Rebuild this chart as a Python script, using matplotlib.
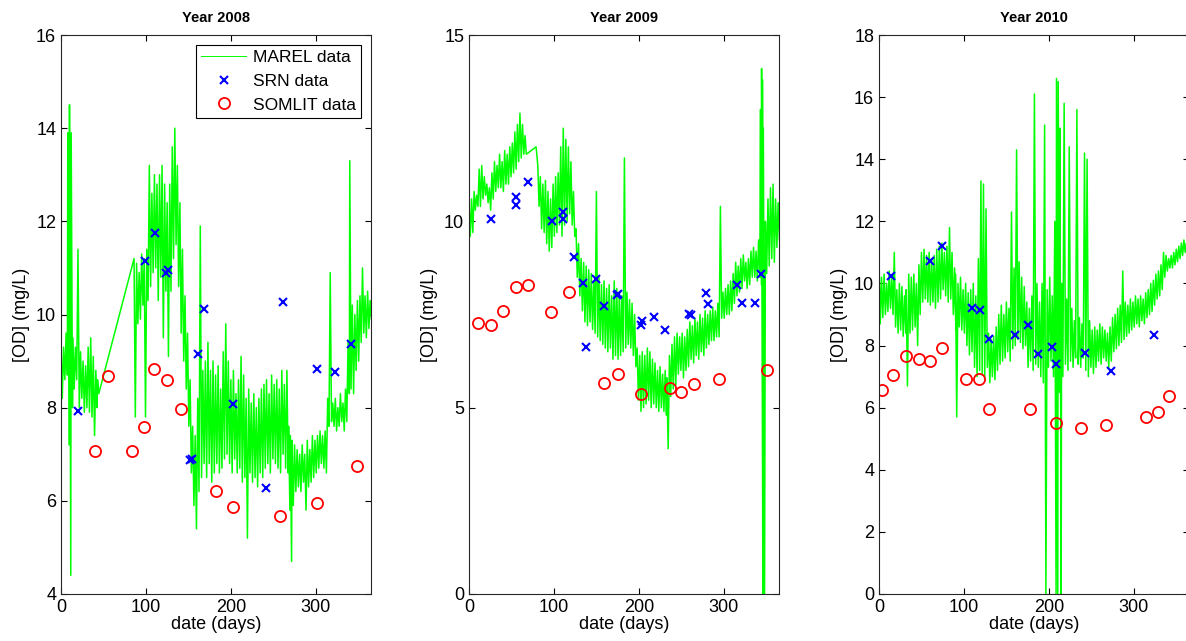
import matplotlib.pyplot as plt

plt.rcParams['font.family'] = ['Liberation Sans', 'DejaVu Sans']

marel_2008 = [
    (0, 9.4, 8.2), (3, 9.3, 8.6), (6, 9.6, 8.7), (8, 13.9, 7.2), (10, 14.5, 4.4),
    (12, 13.9, 8.0), (14, 9.5, 8.4), (17, 9.3, 8.6), (20, 11.4, 8.0), (23, 9.2, 8.2),
    (26, 9.0, 7.9), (29, 8.9, 8.0), (32, 9.3, 7.9), (35, 9.5, 7.8), (38, 9.1, 7.4),
    (41, 8.8, 8.0), (43, 8.6, 8.3),
    (86, 11.2, 7.8), (89, 11.1, 9.8), (92, 10.9, 9.9), (95, 11.3, 10.2), (98, 11.2, 7.8),
    (101, 11.4, 10.3), (104, 13.2, 10.6), (107, 12.6, 10.9), (110, 13.0, 11.0),
    (113, 12.8, 10.3), (116, 13.0, 10.8), (119, 13.2, 9.5), (122, 12.8, 10.5),
    (125, 12.4, 9.1), (128, 12.8, 10.5), (131, 13.6, 11.2), (134, 14.0, 11.5),
    (137, 13.2, 10.6), (140, 12.4, 9.6), (143, 11.4, 9.0), (146, 10.4, 8.4),
    (149, 9.6, 7.6), (152, 8.6, 6.6), (155, 7.6, 5.9), (158, 7.4, 5.4), (161, 8.2, 6.2),
    (164, 11.9, 6.5), (167, 8.8, 6.8), (170, 9.0, 6.5), (173, 9.4, 6.8), (176, 8.8, 6.4),
    (179, 9.0, 6.6), (182, 8.7, 6.8), (185, 8.9, 6.6), (188, 8.4, 6.7), (191, 9.2, 6.9),
    (194, 9.8, 7.0), (197, 9.0, 6.8), (200, 8.6, 6.6), (203, 8.8, 6.9), (206, 8.3, 6.6),
    (209, 8.6, 6.7), (212, 9.1, 6.4), (215, 8.7, 6.5), (218, 8.2, 5.2), (221, 8.4, 6.6),
    (224, 8.1, 6.4), (227, 8.3, 6.5), (230, 8.0, 6.3), (233, 8.2, 6.6), (236, 8.4, 6.5),
    (239, 8.5, 6.7), (242, 8.6, 6.8), (245, 8.3, 6.6), (248, 8.7, 6.9), (251, 8.5, 6.8),
    (254, 8.6, 6.7), (257, 8.4, 6.6), (260, 8.8, 7.0), (263, 8.5, 6.7), (266, 8.8, 6.6),
    (268, 7.6, 5.8), (270, 7.4, 4.7), (272, 7.3, 5.9), (275, 7.2, 6.2), (278, 7.1, 6.3),
    (281, 7.0, 6.2), (284, 7.2, 6.4), (287, 7.0, 5.8), (290, 7.3, 6.3), (293, 7.1, 6.4),
    (296, 7.4, 6.5), (299, 7.3, 6.6), (302, 7.4, 6.7), (305, 7.5, 6.8), (308, 7.4, 6.7),
    (311, 7.5, 6.6), (314, 8.2, 7.6), (317, 10.9, 7.7), (320, 8.1, 7.6), (323, 8.2, 7.5),
    (326, 8.0, 7.6), (329, 8.3, 7.7), (332, 8.1, 7.5), (335, 8.4, 7.7), (338, 9.4, 8.3),
    (340, 13.3, 8.4), (343, 10.2, 8.3), (346, 10.0, 8.8), (349, 10.3, 9.0),
    (352, 10.4, 9.4), (355, 11.0, 9.6), (358, 10.4, 9.5), (361, 10.5, 9.7), (364, 10.3, 9.9),
]
marel_2009 = [
    (0, 10.5, 9.6), (3, 10.6, 9.7), (6, 10.8, 10.3), (9, 10.7, 10.4), (12, 11.4, 10.4),
    (15, 11.5, 10.6), (18, 11.2, 10.7), (21, 11.0, 10.5), (24, 10.9, 10.3), (27, 11.3, 10.6),
    (30, 11.6, 10.8), (33, 11.5, 10.9), (36, 11.8, 10.9), (39, 11.6, 10.8), (42, 11.9, 11.0),
    (45, 11.8, 11.0), (48, 12.0, 11.2), (51, 12.1, 11.3), (54, 12.4, 11.4), (57, 12.6, 11.6),
    (60, 12.9, 11.7), (63, 12.6, 11.8), (66, 12.3, 11.8),
    (79, 12.0, 11.6), (81, 11.5, 10.4), (84, 11.2, 9.8), (87, 11.0, 9.7), (90, 11.1, 9.4),
    (93, 10.8, 9.2), (96, 10.6, 9.3), (99, 11.0, 9.6), (102, 11.2, 9.7), (105, 11.3, 9.9),
    (108, 12.0, 9.6), (111, 12.5, 9.9), (114, 12.2, 10.0), (117, 12.0, 10.2),
    (120, 11.6, 9.9), (123, 10.8, 9.6), (126, 9.8, 8.5), (129, 9.4, 8.0), (132, 9.0, 7.6),
    (135, 8.9, 7.3), (138, 8.8, 7.2), (141, 8.7, 7.3), (144, 8.6, 7.1), (147, 8.4, 7.0),
    (150, 10.8, 6.9), (153, 8.5, 6.8), (156, 8.3, 6.7), (159, 8.4, 6.6), (162, 8.2, 6.5),
    (165, 8.3, 6.6), (168, 8.0, 6.3), (171, 8.4, 6.4), (174, 8.2, 6.3), (177, 8.1, 6.4),
    (180, 8.0, 6.5), (183, 11.7, 6.6), (186, 8.1, 6.7), (189, 7.9, 6.6), (192, 7.8, 6.4),
    (195, 7.5, 6.1), (198, 6.6, 5.2), (201, 6.4, 4.9), (204, 6.5, 5.0), (207, 6.4, 5.1),
    (210, 6.6, 5.2), (213, 6.5, 5.0), (216, 6.3, 5.1), (219, 6.2, 5.0), (222, 6.0, 4.9),
    (225, 6.1, 5.0), (228, 5.9, 4.9), (231, 6.0, 4.8), (233, 5.8, 3.9), (236, 6.4, 5.3),
    (239, 6.7, 5.5), (242, 6.9, 5.6), (245, 7.0, 5.9), (248, 6.9, 6.0), (251, 7.0, 5.8),
    (254, 6.9, 6.0), (257, 7.1, 6.1), (260, 7.3, 6.3), (263, 7.2, 6.2), (266, 7.4, 6.4),
    (269, 7.3, 6.3), (272, 7.5, 6.5), (275, 7.4, 6.4), (278, 7.6, 6.6), (281, 7.5, 6.7),
    (284, 7.6, 6.8), (287, 7.7, 6.8), (290, 7.6, 6.9), (293, 7.8, 6.9), (296, 10.4, 7.4),
    (299, 8.1, 7.4), (302, 8.2, 7.5), (305, 8.3, 7.5), (308, 8.4, 7.6), (311, 8.6, 7.8),
    (314, 8.9, 8.0), (317, 8.8, 8.1), (320, 9.0, 8.2), (323, 9.1, 8.4), (326, 8.9, 8.2),
    (329, 9.0, 8.3), (332, 9.2, 8.5), (335, 9.3, 8.5), (338, 9.2, 8.4), (341, 9.5, 8.5),
    (343, 13.0, 8.3), (344.5, 14.1, 0.0), (345.5, 13.8, 0.0), (346.5, 12.5, 0.0),
    (349, 10.0, 8.6), (352, 10.6, 8.8), (355, 10.9, 9.0), (358, 11.0, 8.9),
    (361, 10.6, 9.3), (364, 10.5, 9.5),
]
marel_2010 = [
    (0, 10.8, 8.7), (3, 10.2, 8.9), (6, 10.3, 9.0), (9, 10.0, 9.1), (12, 10.4, 9.2),
    (15, 10.2, 9.0), (18, 11.0, 8.6), (21, 9.8, 8.4), (24, 10.0, 8.5), (27, 9.9, 8.3),
    (30, 9.6, 8.4), (32, 9.8, 6.7), (35, 10.3, 8.4), (38, 10.2, 8.5), (41, 10.3, 8.6),
    (44, 10.0, 8.0), (47, 10.6, 9.0), (50, 11.0, 9.4), (53, 11.1, 9.5), (56, 10.9, 9.4),
    (59, 11.0, 9.3), (62, 10.8, 9.4), (65, 10.9, 9.2), (68, 11.1, 9.4), (71, 11.2, 9.5),
    (74, 11.3, 9.8), (77, 11.0, 9.6), (80, 11.2, 9.4), (83, 11.8, 9.5), (86, 11.0, 9.0),
    (89, 10.5, 8.5), (90, 10.3, 5.7), (93, 10.0, 8.6), (96, 10.2, 8.5), (99, 9.8, 8.4),
    (102, 10.0, 8.0), (105, 9.7, 7.7), (108, 9.8, 7.8), (111, 10.0, 7.3), (114, 9.6, 7.0),
    (117, 10.8, 7.2), (120, 13.3, 7.1), (123, 13.2, 6.9), (126, 12.4, 7.3), (129, 8.4, 6.8),
    (132, 8.2, 7.0), (135, 8.3, 6.9), (138, 8.6, 7.2), (141, 9.0, 7.4), (144, 9.3, 7.5),
    (147, 9.0, 7.6), (150, 9.4, 7.8), (153, 9.2, 7.5), (156, 12.3, 7.9), (159, 10.5, 8.0),
    (162, 14.3, 8.2), (165, 10.7, 8.1), (168, 10.2, 7.9), (171, 9.9, 8.0), (174, 9.4, 7.3),
    (177, 9.2, 7.5), (180, 9.6, 7.2), (183, 16.1, 7.4), (186, 10.0, 7.3), (189, 9.4, 7.0),
    (192, 10.0, 6.8), (195, 15.1, 0.0), (198, 9.8, 7.3), (201, 10.2, 7.5), (204, 9.6, 7.0),
    (207, 12.0, 0.0), (209, 16.6, 0.0), (211, 16.5, 6.5), (213, 15.0, 0.0), (215, 10.0, 7.0),
    (218, 15.8, 7.4), (221, 9.5, 7.2), (224, 14.4, 7.5), (227, 9.2, 7.3), (230, 8.8, 7.6),
    (233, 15.6, 7.4), (236, 8.9, 7.3), (239, 8.7, 7.6), (242, 14.2, 7.2), (245, 14.0, 7.0),
    (248, 8.8, 7.3), (251, 8.5, 7.1), (254, 8.6, 7.3), (257, 8.5, 7.5), (260, 8.7, 7.4),
    (263, 8.6, 7.6), (266, 8.5, 7.5), (269, 8.4, 7.3), (272, 8.6, 7.5), (275, 8.9, 7.8),
    (278, 9.0, 7.9), (281, 9.2, 8.0), (284, 9.3, 8.1), (287, 10.4, 8.2), (290, 9.4, 8.3),
    (293, 9.3, 8.4), (296, 9.5, 8.5), (299, 9.4, 8.6), (302, 9.6, 8.7), (305, 9.5, 8.6),
    (308, 9.6, 8.8), (311, 9.5, 8.7), (314, 9.7, 8.9), (317, 9.8, 9.0), (320, 10.0, 9.1),
    (323, 10.1, 9.3), (326, 10.3, 9.5), (329, 10.4, 9.6), (332, 10.6, 9.8), (335, 11.0, 10.2),
    (338, 10.9, 10.4), (341, 10.8, 10.5), (344, 10.9, 10.5), (347, 11.0, 10.6),
    (350, 11.1, 10.7), (353, 11.2, 10.8), (356, 11.3, 10.9), (359, 11.4, 11.0),
    (362, 11.3, 10.9), (365, 11.4, 11.0),
]

srn_day_2008 = [20, 99, 111, 124, 126, 152, 154, 161, 168, 202, 241, 261, 301, 323, 342]
srn_od_2008 = [7.92, 11.15, 11.76, 10.9, 10.95, 6.87, 6.9, 9.16, 10.11, 8.08, 6.27, 10.27, 8.84, 8.77, 9.37]
somlit_day_2008 = [40, 55, 84, 98, 110, 125, 141, 182, 202, 258, 302, 349]
somlit_od_2008 = [7.07, 8.68, 7.07, 7.58, 8.84, 8.59, 7.98, 6.22, 5.87, 5.67, 5.95, 6.75]

srn_day_2009 = [26, 55, 55, 69, 98, 111, 111, 124, 134, 138, 149, 159, 174, 176, 202, 204,
                218, 231, 259, 261, 279, 281, 315, 322, 337, 344]
srn_od_2009 = [10.07, 10.66, 10.43, 11.06, 10.01, 10.25, 10.07, 9.04, 8.35, 6.62, 8.46, 7.73, 8.01, 8.05,
               7.22, 7.33, 7.44, 7.08, 7.51, 7.48, 8.09, 7.79, 8.29, 7.8, 7.8, 8.6]
somlit_day_2009 = [11, 26, 40, 55, 70, 97, 118, 159, 176, 202, 237, 250, 265, 294, 351]
somlit_od_2009 = [7.27, 7.22, 7.59, 8.23, 8.28, 7.57, 8.1, 5.67, 5.9, 5.36, 5.52, 5.42, 5.64, 5.77, 6.0]

srn_day_2010 = [14, 60, 74, 110, 119, 130, 160, 175, 187, 204, 208, 243, 273, 324]
srn_od_2010 = [10.25, 10.72, 11.19, 9.2, 9.14, 8.22, 8.35, 8.66, 7.73, 7.94, 7.4, 7.75, 7.18, 8.33]
somlit_day_2010 = [3, 17, 32, 47, 60, 74, 103, 118, 130, 178, 208, 238, 267, 314, 328, 341]
somlit_od_2010 = [6.56, 7.05, 7.67, 7.58, 7.5, 7.93, 6.92, 6.92, 5.95, 5.95, 5.5, 5.34, 5.43, 5.71, 5.86, 6.37]

years = ['2008', '2009', '2010']
marel = [marel_2008, marel_2009, marel_2010]
srn = [(srn_day_2008, srn_od_2008), (srn_day_2009, srn_od_2009), (srn_day_2010, srn_od_2010)]
somlit = [(somlit_day_2008, somlit_od_2008), (somlit_day_2009, somlit_od_2009),
          (somlit_day_2010, somlit_od_2010)]
ylims = [(4, 16), (0, 15), (0, 18)]
yticks = [range(4, 17, 2), range(0, 16, 5), range(0, 19, 2)]

fig = plt.figure(figsize=(11.86, 6.41), dpi=100)
lefts = [61, 469, 879]

for i in range(3):
    ax = fig.add_axes([lefts[i] / 1186, 47 / 641, 310 / 1186, 559 / 641])
    # zig-zag between the upper and lower reading to render the dense band
    x, y = [], []
    for d, hi, lo in marel[i]:
        x += [d, d + 1.5]
        y += [hi, lo]
    ax.plot(x, y, color=(0, 1, 0), lw=1.1, label='MAREL data')
    ax.plot(srn[i][0], srn[i][1], 'x', color='b', ms=6, mew=1.5, label='SRN data')
    ax.plot(somlit[i][0], somlit[i][1], 'o', mec='r', mfc='none', ms=8, mew=1.3,
            label='SOMLIT data')
    ax.set_xlim(0, 365)
    ax.set_ylim(*ylims[i])
    ax.set_xticks([0, 100, 200, 300])
    ax.set_yticks(list(yticks[i]))
    ax.tick_params(direction='in', top=True, right=True, length=4, labelsize=13, width=0.8)
    for s in ax.spines.values():
        s.set_linewidth(0.8)
        s.set_color('#262626')
    ax.set_title('Year ' + years[i], fontsize=10.5, fontweight='bold', pad=9)
    ax.set_xlabel('date (days)', fontsize=13, labelpad=0)
    ax.set_ylabel('[OD] (mg/L)', fontsize=13, labelpad=4)
    if i == 0:
        leg = ax.legend(loc='upper right', fontsize=12.5, fancybox=False, framealpha=1,
                        edgecolor='k', handlelength=2.6, handletextpad=0.4,
                        borderaxespad=0.55, borderpad=0.3, labelspacing=0.5)
        leg.get_frame().set_linewidth(0.8)
        leg.get_lines()[0].set_linewidth(0.7)

fig.savefig('out.png', dpi=100)
